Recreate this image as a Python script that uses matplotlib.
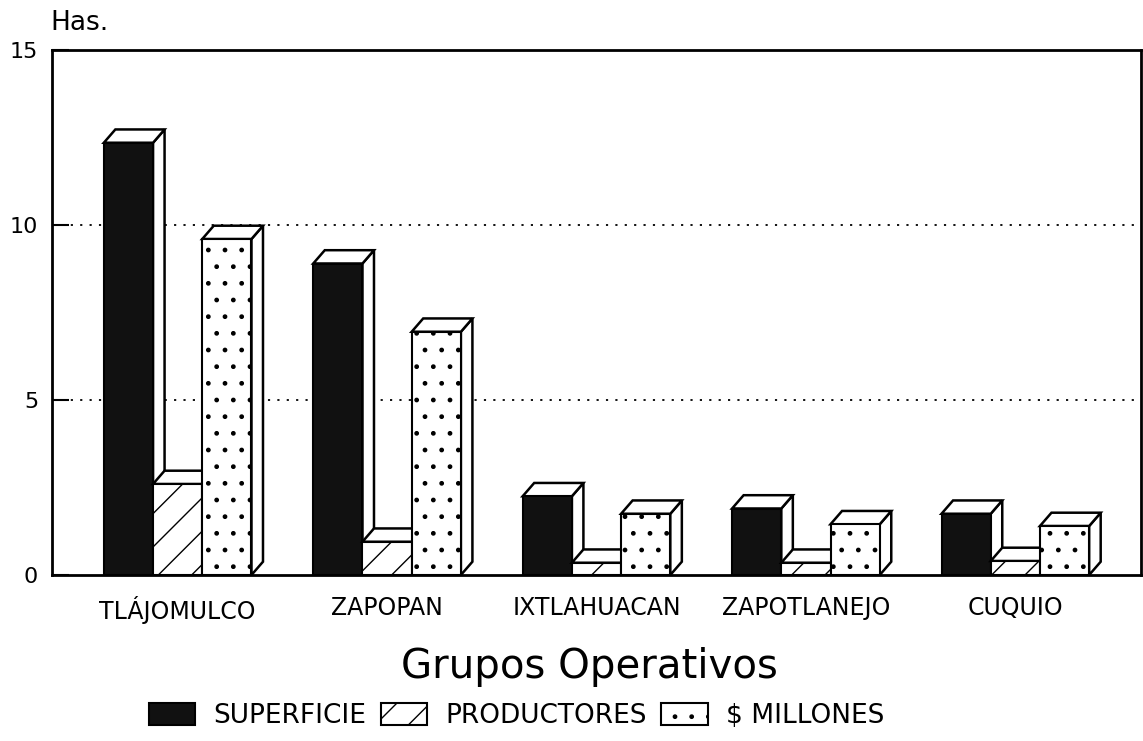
import numpy as np
import matplotlib.pyplot as plt
from matplotlib.patches import Polygon, Patch

# ==========================================
# Data
# ==========================================
grupos = ["TLÁJOMULCO", "ZAPOPAN", "IXTLAHUACAN", "ZAPOTLANEJO", "CUQUIO"]
superficie = [12.35, 8.9, 2.25, 1.9, 1.75]
productores = [2.6, 0.95, 0.35, 0.35, 0.4]
millones = [9.6, 6.95, 1.75, 1.45, 1.4]

series_names = ["SUPERFICIE", "PRODUCTORES", "$ MILLONES"]
y_ticks = [0, 5, 10, 15]

# ==========================================
# Style
# ==========================================
plt.rcParams['font.family'] = ['DejaVu Sans']
plt.rcParams['hatch.linewidth'] = 1.0

BAR_W = 0.235
DX = 0.055      # depth offset in x data units
DY = 0.38       # depth offset in y data units
styles = [
    dict(facecolor='#111111', hatch=None),
    dict(facecolor='white', hatch='/'),
    dict(facecolor='white', hatch='.'),
]


def draw_bar3d(ax, x0, h, style, z):
    # front face
    ax.bar(x0, h, width=BAR_W, align='edge', edgecolor='black', linewidth=1.5,
           zorder=z + 0.2, **style)
    # right side face
    side = [(x0 + BAR_W, 0), (x0 + BAR_W + DX, DY), (x0 + BAR_W + DX, h + DY), (x0 + BAR_W, h)]
    ax.add_patch(Polygon(side, closed=True, facecolor='white', edgecolor='black',
                         linewidth=1.8, zorder=z))
    # top face
    top = [(x0, h), (x0 + BAR_W, h), (x0 + BAR_W + DX, h + DY), (x0 + DX, h + DY)]
    ax.add_patch(Polygon(top, closed=True, facecolor='white', edgecolor='black',
                         linewidth=1.8, zorder=z + 0.1))


fig = plt.figure(figsize=(11.43, 7.41), dpi=100)
ax = fig.add_axes([52 / 1143, 1 - 575 / 741, (1141 - 52) / 1143, (575 - 50) / 741])

x = np.arange(len(grupos))
for i in range(len(grupos)):
    vals = [superficie[i], productores[i], millones[i]]
    left = x[i] - 1.5 * BAR_W
    for k, v in enumerate(vals):
        draw_bar3d(ax, left + k * BAR_W, v, styles[k], 3 + k)

ax.set_xlim(-0.6, 4.6)
ax.set_ylim(0, 15)
ax.set_yticks(y_ticks)
ax.set_yticklabels([str(t) for t in y_ticks], fontsize=16)
ax.set_xticks(x)
ax.set_xticklabels(grupos, fontsize=17)
ax.tick_params(axis='x', length=0, pad=15)
ax.tick_params(axis='y', direction='in', length=12, width=1.5, pad=10)

for yv in [5, 10]:
    ax.axhline(yv, color='black', linestyle=(0, (1.2, 4)), linewidth=1.3, zorder=1)

for s in ax.spines.values():
    s.set_linewidth(2)
    s.set_color('black')

fig.text(50 / 1143, 1 - 36 / 741, "Has.", fontsize=19, ha='left', va='bottom')
fig.text(0.516, 1 - 667 / 741, "Grupos Operativos", fontsize=29, ha='center', va='center')

handles = [Patch(edgecolor='black', linewidth=1.5, **styles[k]) for k in range(3)]
fig.legend(handles, series_names, loc='center', bbox_to_anchor=(0.452, 1 - 716 / 741),
           ncol=3, frameon=False, fontsize=19, handlelength=1.75, handleheight=0.9,
           handletextpad=0.7, columnspacing=0.55)

fig.savefig("out.png", dpi=100)
